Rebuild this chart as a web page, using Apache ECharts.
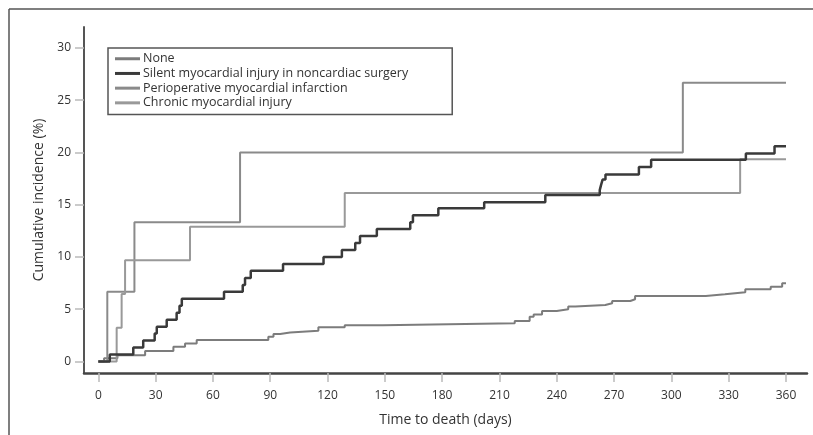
<!DOCTYPE html>
<html>
<head>
<meta charset="utf-8">
<script src="https://cdn.jsdelivr.net/npm/echarts@6/dist/echarts.min.js"></script>
<style>
html,body{margin:0;padding:0;background:#fff;}
#chart{width:813px;height:435px;}
</style>
</head>
<body>
<div id="chart"></div>
<script>
// ---- data ----
const seriesNames = ["None", "Silent myocardial injury in noncardiac surgery", "Perioperative myocardial infarction", "Chronic myocardial injury"];
const xTicks = [0, 30, 60, 90, 120, 150, 180, 210, 240, 270, 300, 330, 360];
const yTicks = [0, 5, 10, 15, 20, 25, 30];

const noneDays = [0, 3, 10, 24.5, 39.3, 45.4, 51.5, 89, 91.7, 95.2, 100.4, 115.2, 129, 149, 218, 225.8, 227.9, 232.3, 240, 246, 249.7, 265.4, 269, 278.5, 281, 318, 328, 338.7, 352, 358, 360];
const noneVals = [0, 0.3, 0.6, 1.0, 1.4, 1.72, 2.06, 2.37, 2.63, 2.78, 2.95, 3.27, 3.47, 3.65, 3.87, 4.29, 4.5, 4.83, 5.0, 5.25, 5.4, 5.57, 5.79, 5.95, 6.27, 6.43, 6.62, 6.9, 7.16, 7.48, 7.48];

const silentDays = [0, 6, 18.3, 23.5, 29.5, 30.6, 35.8, 41, 42.5, 43.7, 65.8, 75.6, 76.8, 79.8, 96.7, 117.9, 127.5, 134.5, 137, 145.8, 163.3, 164.7, 178, 202, 234, 262.5, 263.2, 264, 265.5, 283, 289.4, 339, 354, 360];
const silentVals = [0, 0.67, 1.33, 2.0, 2.67, 3.33, 4.0, 4.67, 5.33, 6.0, 6.67, 7.33, 8.0, 8.67, 9.33, 10.0, 10.67, 11.33, 12.0, 12.67, 13.33, 14.0, 14.67, 15.23, 15.93, 16.4, 16.9, 17.4, 17.9, 18.6, 19.3, 19.9, 20.6, 20.6];

const periDays = [0, 4.7, 18.9, 74.2, 306, 360];
const periVals = [0, 6.67, 13.33, 20.0, 26.67, 26.67];

const chronicDays = [0, 9.6, 12.2, 14.0, 48, 129, 336, 360];
const chronicVals = [0, 3.23, 6.45, 9.68, 12.9, 16.13, 19.35, 19.35];

function zip(a, b) { return a.map((d, i) => [d, b[i]]); }

const FONT = "'Open Sans', 'Noto Sans', sans-serif";
const chart = echarts.init(document.getElementById('chart'), null, {renderer: 'canvas'});

function line(name, days, vals, color, width, z) {
  return {
    name: name, type: 'line', step: 'end', data: zip(days, vals),
    showSymbol: false, symbol: 'none', z: z,
    lineStyle: {color: color, width: width},
    itemStyle: {color: color},
    emphasis: {disabled: true}
  };
}

chart.setOption({
  animation: false,
  backgroundColor: '#fff',
  textStyle: {fontFamily: FONT},
  grid: {left: 84, right: 6, top: 27, bottom: 62, containLabel: false},
  legend: {
    orient: 'vertical', left: 108, top: 48,
    icon: 'rect', itemWidth: 25, itemHeight: 3, itemGap: 1.2,
    padding: [4, 44, 5, 7],
    borderColor: '#555', borderWidth: 1.5,
    backgroundColor: '#fff',
    textStyle: {fontFamily: FONT, fontSize: 12.5, color: '#333', padding: [0, 0, 0, -2], lineHeight: 13.5},
    data: seriesNames
  },
  xAxis: {
    type: 'value', min: -7.5, max: 371,
    name: 'Time to death (days)', nameLocation: 'middle', nameGap: 40,
    nameTextStyle: {fontFamily: FONT, fontSize: 14, color: '#333'},
    axisLine: {show: true, onZero: false, lineStyle: {color: '#444', width: 2.5}},
    axisTick: {show: true, customValues: xTicks, length: 9, lineStyle: {color: '#bbb', width: 1.5}},
    axisLabel: {customValues: xTicks, margin: 17, fontFamily: FONT, fontSize: 12, color: '#333'},
    splitLine: {show: false}
  },
  yAxis: {
    type: 'value', min: -1.1, max: 32,
    name: 'Cumulative incidence (%)', nameLocation: 'middle', nameGap: 32,
    nameTextStyle: {fontFamily: FONT, fontSize: 14, color: '#333'},
    axisLine: {show: true, onZero: false, lineStyle: {color: '#555', width: 2}},
    axisTick: {show: true, customValues: yTicks, length: 9, lineStyle: {color: '#bbb', width: 1.5}},
    axisLabel: {customValues: yTicks, margin: 13, fontFamily: FONT, fontSize: 12, color: '#333'},
    splitLine: {show: false}
  },
  graphic: [
    {type: 'line', shape: {x1: 9, y1: 9, x2: 813, y2: 9}, style: {stroke: '#555', lineWidth: 1.5}, silent: true},
    {type: 'line', shape: {x1: 9, y1: 9, x2: 9, y2: 435}, style: {stroke: '#555', lineWidth: 1.5}, silent: true}
  ],
  series: [
    line(seriesNames[0], noneDays, noneVals, '#7c7c7c', 2, 2),
    line(seriesNames[1], silentDays, silentVals, '#3a3a3a', 2.5, 4),
    line(seriesNames[2], periDays, periVals, '#8a8a8a', 2, 3),
    line(seriesNames[3], chronicDays, chronicVals, '#999999', 2, 3)
  ]
});
</script>
</body>
</html>
